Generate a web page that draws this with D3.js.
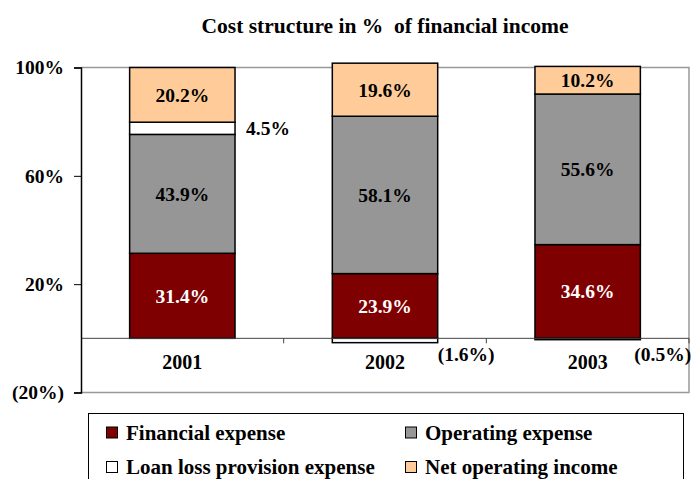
<!DOCTYPE html>
<html><head><meta charset="utf-8">
<script src="https://cdn.jsdelivr.net/npm/d3@7"></script>
<style>body{margin:0;background:#fff;} text{font-family:"Liberation Serif","Times New Roman",serif;font-weight:bold;}</style>
</head><body><svg id="c" width="691" height="479"></svg>
<script>
const years = ["2001","2002","2003"];
const seriesNames = ["Financial expense","Operating expense","Loan loss provision expense","Net operating income"];
const financial = [31.4, 23.9, 34.6];
const operating = [43.9, 58.1, 55.6];
const loanLoss = [4.5, -1.6, -0.5];
const netIncome = [20.2, 19.6, 10.2];
const yTicks = [100, 60, 20, -20];
const colors = ["#7f0000", "#969696", "#ffffff", "#ffcc99"];
const labelColors = ["#fff", "#000", "#000", "#000"];

const svg = d3.select("#c");
const L = 81, R = 689, T = 67.5, B = 392.5;
const y = d3.scaleLinear().domain([-20, 100]).range([B, T]);
const x = d3.scaleBand().domain(years).range([L, R]).paddingInner(0.48).paddingOuter(0.24);
const xb = d3.scaleBand().domain(years).range([L, R]);

svg.append("text").attr("x", 385).attr("y", 33).attr("text-anchor", "middle")
  .attr("xml:space", "preserve").style("white-space", "pre")
  .style("font-size", "21.5px").text("Cost structure in %  of financial income");

// plot frame (gray top/right/bottom)
svg.append("path").attr("d", `M${L},${T}H${R}V${B}H${L}`).attr("fill", "none").attr("stroke", "#999").attr("stroke-width", 1.5);

// stacked segments
const values = [financial, operating, loanLoss, netIncome];
const segs = [];
years.forEach((yr, i) => {
  let pos = 0, neg = 0;
  values.forEach((arr, s) => {
    const v = arr[i];
    let y0, y1;
    if (v >= 0) { y0 = pos; y1 = pos + v; pos = y1; } else { y0 = neg + v; y1 = neg; neg = y0; }
    segs.push({yr, i, s, v, y0, y1});
  });
});
svg.append("g").selectAll("rect").data(segs).join("rect")
  .attr("x", d => x(d.yr)).attr("width", x.bandwidth())
  .attr("y", d => y(d.y1)).attr("height", d => y(d.y0) - y(d.y1))
  .attr("fill", d => colors[d.s]).attr("stroke", "#000").attr("stroke-width", 1.5);

// zero axis
svg.append("line").attr("x1", L).attr("x2", R).attr("y1", y(0)).attr("y2", y(0)).attr("stroke", "#444").attr("stroke-width", 1);
// category boundary ticks
svg.append("g").selectAll("line").data(years).join("line")
  .attr("x1", d => xb(d) + xb.bandwidth()).attr("x2", d => xb(d) + xb.bandwidth())
  .attr("y1", y(0)).attr("y2", y(0) + 5).attr("stroke", "#444");
// category labels
svg.append("g").selectAll("text").data(years).join("text")
  .attr("x", d => x(d) + x.bandwidth() / 2).attr("y", y(0) + 31).attr("text-anchor", "middle")
  .style("font-size", "20px").text(d => d);

// y axis
const yAxis = d3.axisLeft(y).tickValues(yTicks).tickSize(7).tickFormat(d => d < 0 ? `(${-d}%)` : `${d}%`);
const ga = svg.append("g").attr("transform", `translate(${L},0)`).call(yAxis);
ga.select(".domain").attr("stroke", "#000").attr("stroke-width", 1.5);
ga.selectAll(".tick line").attr("stroke", "#000");
ga.selectAll(".tick text").attr("x", -17).style("font-size", "19.5px").style("font-family", "Liberation Serif, serif").style("font-weight", "bold").attr("fill", "#000");

// value labels
const fmt = v => v < 0 ? `(${(-v).toFixed(1)}%)` : `${v.toFixed(1)}%`;
const lab = svg.append("g");
segs.forEach(d => {
  const h = Math.abs(y(d.y0) - y(d.y1));
  let tx, ty, anchor = "middle", col = labelColors[d.s];
  if (h > 25) {
    tx = x(d.yr) + x.bandwidth() / 2; ty = y((d.y0 + d.y1) / 2);
  } else if (d.v > 0) {
    tx = x(d.yr) + x.bandwidth() + 11; ty = y((d.y0 + d.y1) / 2); anchor = "start";
  } else {
    tx = x(d.yr) + x.bandwidth() + (d.i === 1 ? 0 : -6); ty = y(0) + 16; anchor = "start";
  }
  lab.append("text").attr("x", tx).attr("y", ty).attr("dy", "0.35em").attr("text-anchor", anchor)
    .attr("fill", col).style("font-size", "19.5px").text(fmt(d.v));
});

// legend
const lg = svg.append("g");
lg.append("rect").attr("x", 88.5).attr("y", 413.5).attr("width", 595).attr("height", 80).attr("fill", "none").attr("stroke", "#000");
const legPos = [[106, 432.5], [405, 432.5], [106, 467], [405, 467]];
seriesNames.forEach((n, s) => {
  const [lx, ly] = legPos[s];
  lg.append("rect").attr("x", lx + 0.5).attr("y", ly - 5.5).attr("width", 11).attr("height", 11)
    .attr("fill", colors[s]).attr("stroke", "#000").attr("stroke-width", 1);
  lg.append("text").attr("x", lx + 20).attr("y", ly).attr("dy", "0.35em").style("font-size", "21px").text(n);
});
</script></body></html>
